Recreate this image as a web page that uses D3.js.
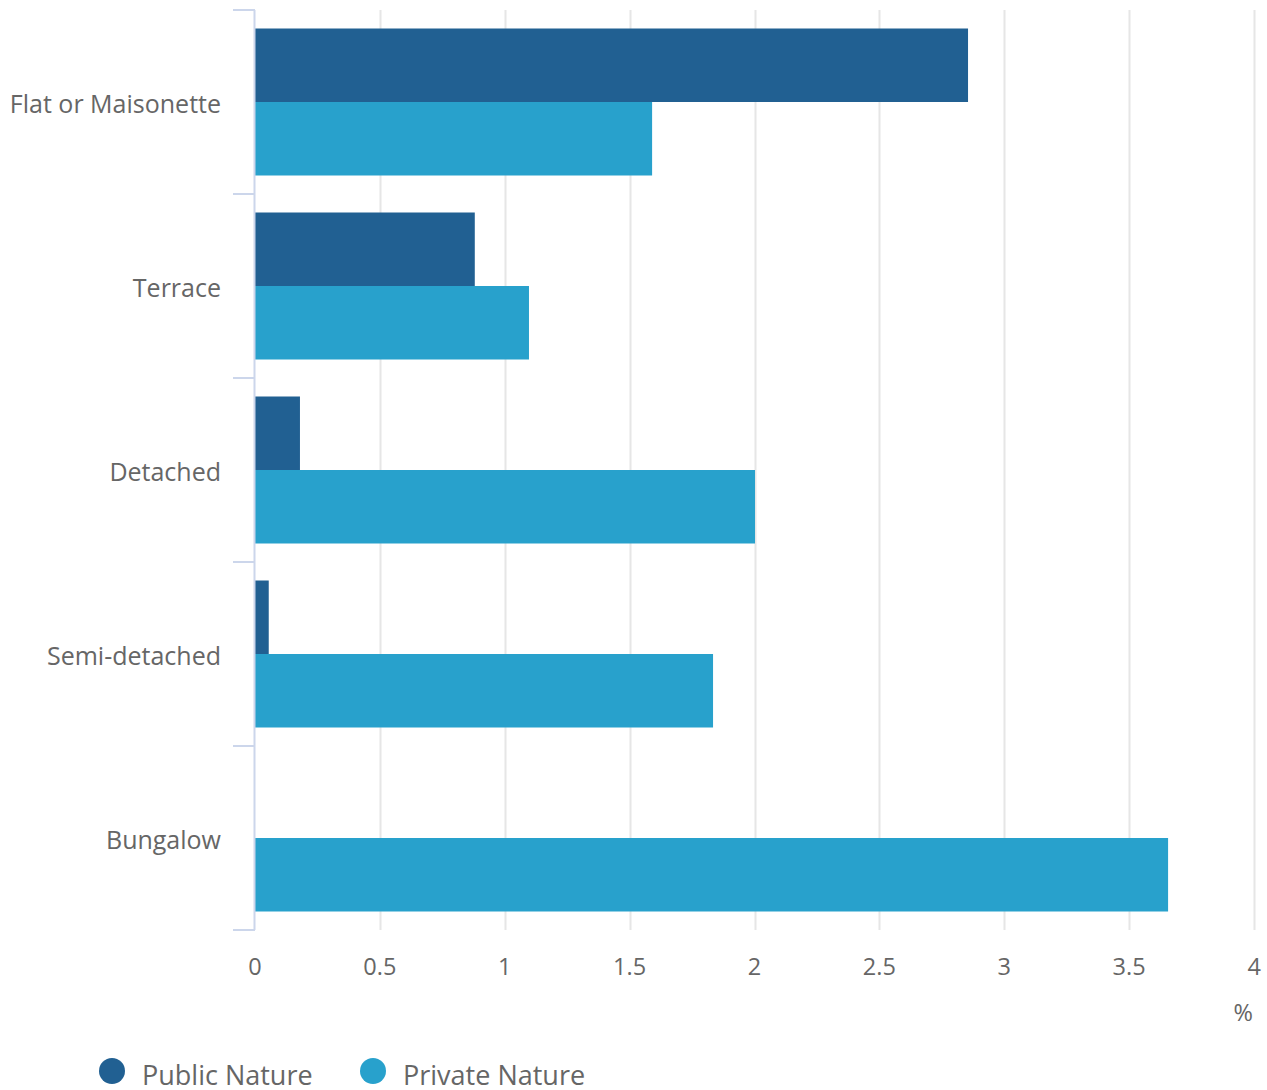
<!DOCTYPE html>
<html>
<head>
<meta charset="utf-8">
<script src="https://cdn.jsdelivr.net/npm/d3@7"></script>
<style>
  body { margin: 0; background: #fff; }
  text { font-family: "Open Sans", sans-serif; }
</style>
</head>
<body>
<svg id="chart"></svg>
<script>
const categories = ["Flat or Maisonette", "Terrace", "Detached", "Semi-detached", "Bungalow"];
const seriesNames = ["Public Nature", "Private Nature"];
const publicNature = [2.855, 0.88, 0.18, 0.055, 0];
const privateNature = [1.59, 1.097, 2.002, 1.834, 3.656];
const xTicks = [0, 0.5, 1, 1.5, 2, 2.5, 3, 3.5, 4];
const colors = ["#216092", "#28a1cc"];

(function () {
  const svgW = 1267, svgH = 1090;
  const plotL = 255, plotR = 1254, plotT = 10, plotB = 930;

  const root = d3.select("#chart").attr("width", svgW).attr("height", svgH);

  const x = d3.scaleLinear().domain([0, 4]).range([plotL, plotR]);
  const y = d3.scaleBand().domain(categories).range([plotT, plotB]);
  const inner = d3.scaleBand().domain(seriesNames).range([18.5, y.bandwidth() - 18.5]);

  // gridlines
  root.append("g").selectAll("line")
    .data(xTicks.slice(1))
    .enter().append("line")
    .attr("x1", d => Math.round(x(d)) + 0.5).attr("x2", d => Math.round(x(d)) + 0.5)
    .attr("y1", plotT).attr("y2", plotB)
    .attr("stroke", "#e6e6e6").attr("stroke-width", 2);

  // bars
  const rows = categories.map((c, i) => ({ cat: c, vals: [publicNature[i], privateNature[i]] }));
  root.append("g").selectAll("g")
    .data(rows)
    .enter().append("g")
    .attr("transform", d => `translate(0,${y(d.cat)})`)
    .selectAll("rect")
    .data(d => d.vals.map((v, k) => ({ name: seriesNames[k], v, k })))
    .enter().append("rect")
    .attr("x", x(0))
    .attr("y", d => inner(d.name))
    .attr("width", d => x(d.v) - x(0))
    .attr("height", inner.bandwidth())
    .attr("fill", d => colors[d.k]);

  // y axis line and ticks
  const yAxis = root.append("g");
  yAxis.append("line")
    .attr("x1", plotL - 0.5).attr("x2", plotL - 0.5)
    .attr("y1", plotT).attr("y2", plotB)
    .attr("stroke", "#ccd6eb").attr("stroke-width", 2);
  const yTickPos = categories.map(c => y(c)).concat([plotB]);
  yAxis.selectAll("line.tick")
    .data(yTickPos)
    .enter().append("line")
    .attr("class", "tick")
    .attr("x1", 233).attr("x2", plotL)
    .attr("y1", d => d).attr("y2", d => d)
    .attr("stroke", "#ccd6eb").attr("stroke-width", 2);
  yAxis.selectAll("text")
    .data(categories)
    .enter().append("text")
    .attr("x", 221)
    .attr("y", d => y(d) + y.bandwidth() / 2 + 2)
    .attr("dy", "0.35em")
    .attr("text-anchor", "end")
    .style("font-size", "25px")
    .style("fill", "#666666")
    .text(d => d);

  // x labels
  root.append("g").selectAll("text")
    .data(xTicks)
    .enter().append("text")
    .attr("x", d => x(d))
    .attr("y", 975)
    .attr("text-anchor", d => d === 4 ? "end" : "middle")
    .attr("dx", d => d === 4 ? 7 : 0)
    .style("font-size", "23.5px")
    .style("fill", "#666666")
    .text(d => d);

  root.append("text")
    .attr("x", 1253).attr("y", 1021)
    .attr("text-anchor", "end")
    .style("font-size", "23.5px")
    .style("fill", "#666666")
    .text("%");

  // legend
  const legend = root.append("g").selectAll("g")
    .data(seriesNames)
    .enter().append("g")
    .attr("transform", (d, i) => `translate(${[112, 373][i]},1071)`);
  legend.append("circle").attr("r", 13).attr("fill", (d, i) => colors[i]);
  legend.append("text")
    .attr("x", 30).attr("dy", "0.35em").attr("y", 4.5)
    .style("font-size", "27px")
    .style("fill", "#666666")
    .text(d => d);
})();
</script>
</body>
</html>
